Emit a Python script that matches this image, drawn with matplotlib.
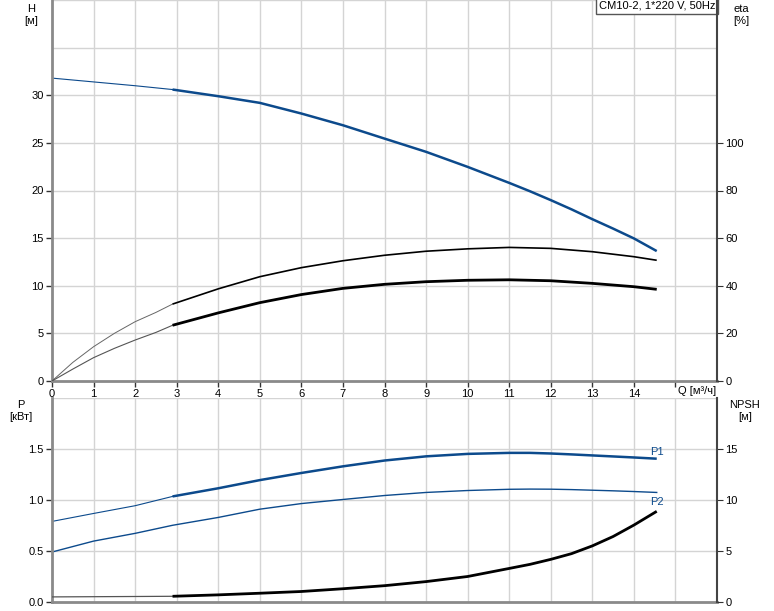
import numpy as np
import matplotlib
matplotlib.use("Agg")
import matplotlib.pyplot as plt
from matplotlib.ticker import FormatStrFormatter

plt.rcParams['font.family'] = ['Liberation Sans', 'DejaVu Sans']
plt.rcParams['font.size'] = 8

# Kennlinien
q = [0, 1, 2, 2.9, 4, 5, 6, 7, 8, 9, 10, 11, 11.5, 12, 12.5, 13, 13.5, 14, 14.55]
head = [31.8, 31.4, 31.0, 30.6, 29.9, 29.2, 28.08, 26.85, 25.45, 24.06, 22.48, 20.8,
        19.92, 18.99, 18.02, 16.99, 16.0, 14.97, 13.64]
p1 = [0.79, 0.868, 0.944, 1.035, 1.115, 1.195, 1.265, 1.33, 1.387, 1.428, 1.452, 1.462,
      1.462, 1.456, 1.447, 1.437, 1.427, 1.417, 1.405]
p2 = [0.49, 0.597, 0.673, 0.752, 0.829, 0.91, 0.965, 1.005, 1.044, 1.074, 1.093, 1.105,
      1.107, 1.106, 1.102, 1.096, 1.09, 1.083, 1.074]
npsh = [0.5, 0.52, 0.54, 0.56, 0.70, 0.86, 1.03, 1.30, 1.6, 2.0, 2.5, 3.29,
        3.69, 4.18, 4.74, 5.5, 6.42, 7.54, 8.89]

q_eta = [0, 0.5, 1, 1.5, 2, 2.5, 2.9, 4, 5, 6, 7, 8, 9, 10, 11, 12, 13, 14, 14.55]
eta_pump = [0, 7.8, 14.4, 20.0, 24.9, 28.8, 32.3, 38.7, 43.8, 47.6, 50.5, 52.8, 54.5,
            55.5, 56.1, 55.7, 54.3, 52.2, 50.7]
eta_total = [0, 5.0, 9.8, 13.7, 17.2, 20.4, 23.4, 28.6, 32.9, 36.3, 38.9, 40.6, 41.7,
             42.3, 42.5, 42.1, 41.0, 39.6, 38.5]

title = "CM10-2, 1*220 V, 50Hz"
blue = '#0c4a8c'
grid_c = '#d4d4d4'
q_start = 2.9  # Beginn des Arbeitsbereichs

fig = plt.figure(figsize=(7.74, 6.11), dpi=100)
ax1 = fig.add_axes([52/774, 1-381/611, 665/774, 381/611])
ax2 = fig.add_axes([52/774, 1-602/611, 665/774, 204/611])


def style(ax, ymax, ystep, yticks):
    ax.set_xlim(0, 16)
    ax.set_ylim(0, ymax)
    ax.set_xticks(range(0, 16))
    for v in np.arange(ystep, ymax + ystep / 2, ystep):
        ax.axhline(v, color=grid_c, lw=1, zorder=0)
    for v in range(1, 16):
        ax.axvline(v, color=grid_c, lw=1, zorder=0)
    for s in ['top', 'right']:
        ax.spines[s].set_visible(False)
    for s in ['left', 'bottom']:
        ax.spines[s].set_color('#8a8a8a')
        ax.spines[s].set_linewidth(2)
    ax.tick_params(direction='out', length=4, width=1, color='#333333', pad=2)
    ax.set_yticks(yticks)


def twin(ax, ymax, yticks):
    axr = ax.twinx()
    axr.set_ylim(0, ymax)
    axr.set_yticks(yticks)
    for s in ['top', 'left', 'bottom']:
        axr.spines[s].set_visible(False)
    axr.spines['right'].set_color('#444444')
    axr.spines['right'].set_linewidth(1.5)
    axr.tick_params(direction='out', length=4, color='#333333', pad=2)
    return axr


def split_plot(ax, x, y, color_thin, color, lw_thin, lw):
    i = x.index(q_start)
    ax.plot(x[:i+1], y[:i+1], color=color_thin, lw=lw_thin)
    ax.plot(x[i:], y[i:], color=color, lw=lw, solid_capstyle='butt')


style(ax1, 40, 5, [0, 5, 10, 15, 20, 25, 30])
ax1.set_xticklabels([str(i) for i in range(15)] + [''])
ax1.text(15.05, -0.012, "Q [м³/ч]", transform=ax1.get_xaxis_transform(),
         ha='left', va='top', fontsize=8)

style(ax2, 2.0, 0.5, [0.0, 0.5, 1.0, 1.5])
ax2.yaxis.set_major_formatter(FormatStrFormatter('%.1f'))
ax2.set_xticklabels([])
ax2.tick_params(axis='x', length=0)

ax1r = twin(ax1, 160, [0, 20, 40, 60, 80, 100])
ax2r = twin(ax2, 20, [0, 5, 10, 15])

# Förderhöhe und Wirkungsgrade
split_plot(ax1, q, head, blue, blue, 0.8, 1.8)
split_plot(ax1r, q_eta, eta_pump, '#666666', 'black', 0.7, 1.2)
split_plot(ax1r, q_eta, eta_total, '#555555', 'black', 0.8, 2.0)

# Leistung und NPSH
split_plot(ax2, q, p1, blue, blue, 0.8, 1.8)
ax2.plot(q, p2, color=blue, lw=1.0)
split_plot(ax2r, q, npsh, '#555555', 'black', 0.9, 2.0)
ax2.text(q[-1] - 0.15, p1[-1] + 0.02, "P1", color=blue, fontsize=8, va='bottom')
ax2.text(q[-1] - 0.15, p2[-1] - 0.04, "P2", color=blue, fontsize=8, va='top')

ax1.text(0.998, 0.998, title, transform=ax1.transAxes, ha='right', va='top',
         fontsize=8, bbox=dict(boxstyle='square,pad=0.25', fc='white', ec='#555555', lw=1))

# Achsentitel
fig.text(31/774, 1-4/611, "H\n[м]", ha='center', va='top', fontsize=8, linespacing=1.3)
fig.text(741/774, 1-4/611, "eta\n[%]", ha='center', va='top', fontsize=8, linespacing=1.3)
fig.text(21/774, 1-400/611, "P\n[кВт]", ha='center', va='top', fontsize=8, linespacing=1.3)
fig.text(745/774, 1-400/611, "NPSH\n[м]", ha='center', va='top', fontsize=8, linespacing=1.3)

fig.savefig("out.png", dpi=100)
